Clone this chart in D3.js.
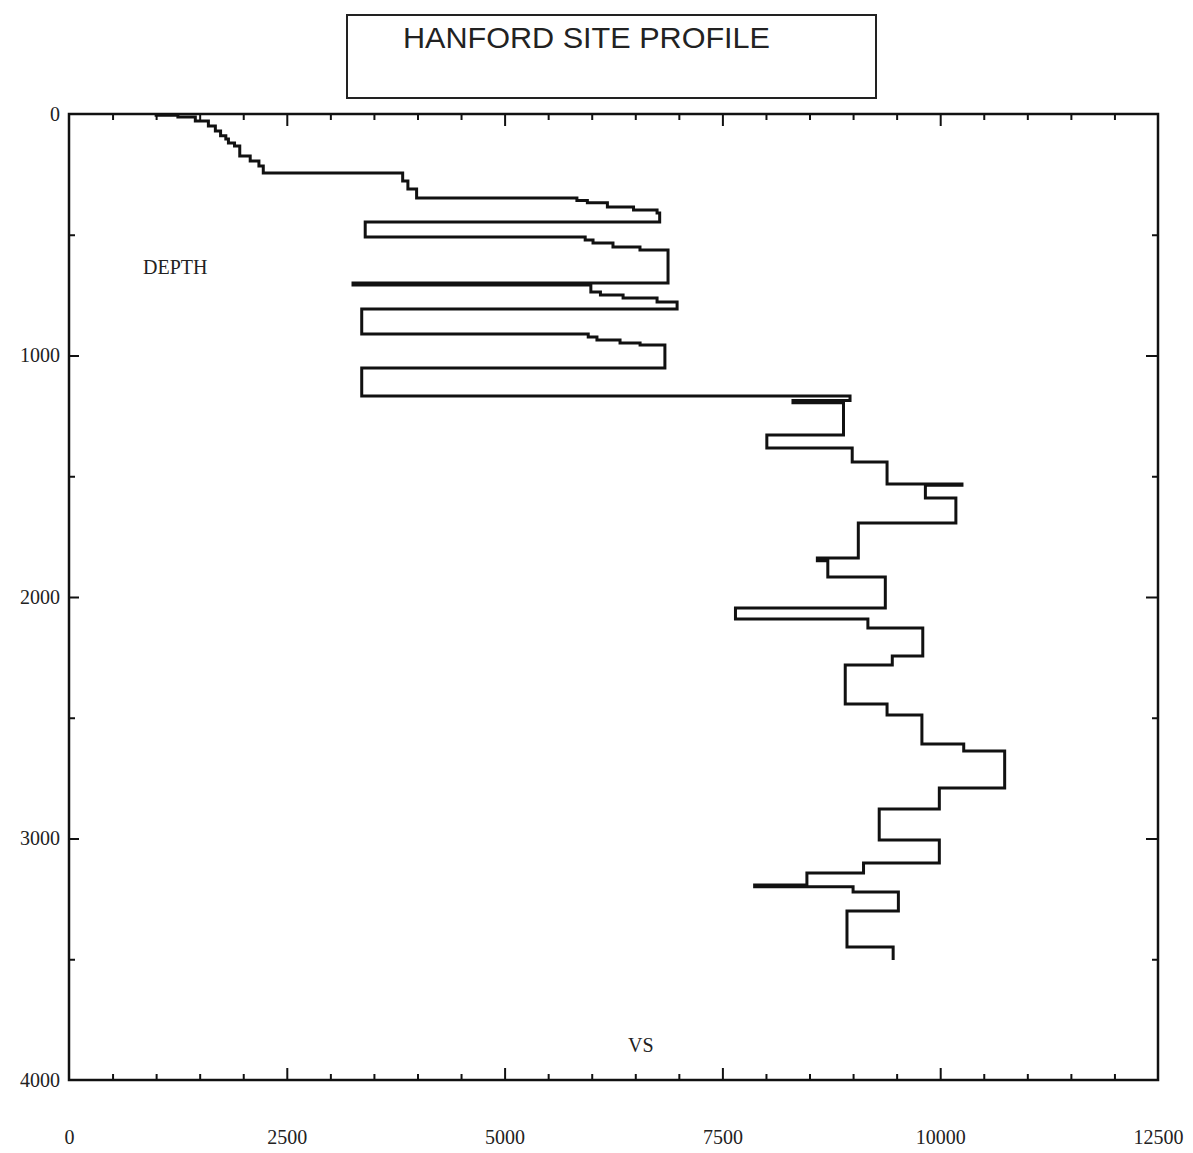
<!DOCTYPE html>
<html>
<head>
<meta charset="utf-8">
<script src="https://cdn.jsdelivr.net/npm/d3@7"></script>
<style>
  html, body { margin: 0; padding: 0; background: #fff; }
  svg { display: block; }
</style>
</head>
<body>
<svg id="chart" width="1193" height="1153"></svg>
<script>
// ---- data ----
const titleText = "HANFORD SITE PROFILE";
const yLabel = "DEPTH";
const xLabel = "VS";
const xTickValues = [0, 2500, 5000, 7500, 10000, 12500];
const yTickValues = [0, 1000, 2000, 3000, 4000];
// top depth of each layer (ft) and shear-wave velocity of the layer (ft/s)
const layerTop = [0, 5, 12, 29, 50, 70, 90, 104, 120, 132, 174, 195, 215, 244, 277, 311,
  348, 358, 368, 385, 398, 410,
  447,
  509, 522, 534, 551, 563,
  700, 708, 737, 749, 762, 778,
  807,
  911, 923, 936, 948, 957,
  1052,
  1168, 1186, 1196, 1329, 1383, 1441, 1532, 1537, 1590, 1694, 1838, 1850, 1917,
  2046, 2091, 2128, 2244, 2282, 2443, 2489, 2609, 2638, 2791, 2878, 3006, 3101, 3143, 3193,
  3200, 3222, 3300, 3449];
const layerVs = [1000, 1250, 1450, 1600, 1680, 1740, 1800, 1830, 1900, 1960, 2080, 2180, 2230, 3830, 3890, 3990,
  5830, 5950, 6180, 6480, 6750, 6780,
  3400,
  5925, 6015, 6244, 6554, 6876,
  3260, 5990, 6100, 6360, 6750, 6980,
  3360,
  5960, 6060, 6325, 6555, 6840,
  3360,
  8965, 8310, 8890, 8010, 8990, 9390, 10250, 9830, 10180, 9060, 8590, 8710, 9370,
  7650, 9170, 9800, 9450, 8910, 9390, 9790, 10270, 10740, 9990, 9300, 9990, 9120, 8470, 7870,
  9000, 9520, 8930, 9460];
const profileBottom = 3503;

// ---- layout ----
const svg = d3.select("#chart");
const x = d3.scaleLinear().domain([0, 12500]).range([69, 1158]);
const y = d3.scaleLinear().domain([0, 4000]).range([114, 1080]);
const ink = "#111";

// title box
svg.append("rect").attr("x", 347).attr("y", 15).attr("width", 529).attr("height", 83)
  .attr("fill", "none").attr("stroke", "#222").attr("stroke-width", 2);
svg.append("text").attr("x", 403).attr("y", 48)
  .attr("font-family", "'Liberation Sans', Arial, sans-serif").attr("font-size", 30)
  .attr("textLength", 367).attr("lengthAdjust", "spacingAndGlyphs")
  .attr("fill", "#222").text(titleText);

// minor ticks (every 500) on all four sides
const minorX = d3.range(0, 12501, 500).filter(v => v % 2500 !== 0);
const minorY = d3.range(0, 4001, 500).filter(v => v % 1000 !== 0);
function styleAxis(g) {
  g.select(".domain").remove();
  g.selectAll("line").attr("stroke", ink).attr("stroke-width", 2);
}
svg.append("g").attr("transform", `translate(0,${y(4000)})`)
  .call(d3.axisBottom(x).tickValues(minorX).tickSize(-6).tickFormat(""))
  .call(styleAxis);
svg.append("g").attr("transform", `translate(0,${y(0)})`)
  .call(d3.axisTop(x).tickValues(minorX).tickSize(-6).tickFormat(""))
  .call(styleAxis);
svg.append("g").attr("transform", `translate(${x(0)},0)`)
  .call(d3.axisLeft(y).tickValues(minorY).tickSize(-6).tickFormat(""))
  .call(styleAxis);
svg.append("g").attr("transform", `translate(${x(12500)},0)`)
  .call(d3.axisRight(y).tickValues(minorY).tickSize(-6).tickFormat(""))
  .call(styleAxis);

// major ticks with labels
const labelFont = "'Liberation Serif', 'Times New Roman', serif";
const gx = svg.append("g").attr("transform", `translate(0,${y(4000)})`)
  .call(d3.axisBottom(x).tickValues(xTickValues).tickSize(-12).tickPadding(50).tickFormat(d3.format("d")))
  .call(styleAxis);
gx.selectAll("text").attr("font-family", labelFont).attr("font-size", 20).attr("fill", "#222");
gx.selectAll(".tick").filter(d => d === 0 || d === 12500).select("line").remove();

svg.append("g").attr("transform", `translate(0,${y(0)})`)
  .call(d3.axisTop(x).tickValues(xTickValues.slice(1, -1)).tickSize(-12).tickFormat(""))
  .call(styleAxis);

const gy = svg.append("g").attr("transform", `translate(${x(0)},0)`)
  .call(d3.axisLeft(y).tickValues(yTickValues).tickSize(-10).tickPadding(9).tickFormat(d3.format("d")))
  .call(styleAxis);
gy.selectAll("text").attr("font-family", labelFont).attr("font-size", 20).attr("fill", "#222");
gy.selectAll(".tick").filter(d => d === 0 || d === 4000).select("line").remove();

svg.append("g").attr("transform", `translate(${x(12500)},0)`)
  .call(d3.axisRight(y).tickValues(yTickValues.slice(1, -1)).tickSize(-12).tickFormat(""))
  .call(styleAxis);

// frame
svg.append("rect").attr("x", x(0)).attr("y", y(0))
  .attr("width", x(12500) - x(0)).attr("height", y(4000) - y(0))
  .attr("fill", "none").attr("stroke", ink).attr("stroke-width", 2.5);

// axis titles inside plot
svg.append("text").attr("x", 143).attr("y", 274)
  .attr("font-family", labelFont).attr("font-size", 20).attr("fill", "#222")
  .text(yLabel);
svg.append("text").attr("x", 628).attr("y", 1052)
  .attr("font-family", labelFont).attr("font-size", 20).attr("fill", "#222")
  .text(xLabel);

// step profile
const pts = [];
layerTop.forEach((d, i) => {
  const bottom = i < layerTop.length - 1 ? layerTop[i + 1] : profileBottom;
  pts.push([layerVs[i], d]);
  pts.push([layerVs[i], bottom]);
});
const line = d3.line().x(p => x(p[0])).y(p => y(p[1]));
svg.append("path").attr("d", line(pts))
  .attr("fill", "none").attr("stroke", ink).attr("stroke-width", 3)
  .attr("stroke-linejoin", "miter");
</script>
</body>
</html>
